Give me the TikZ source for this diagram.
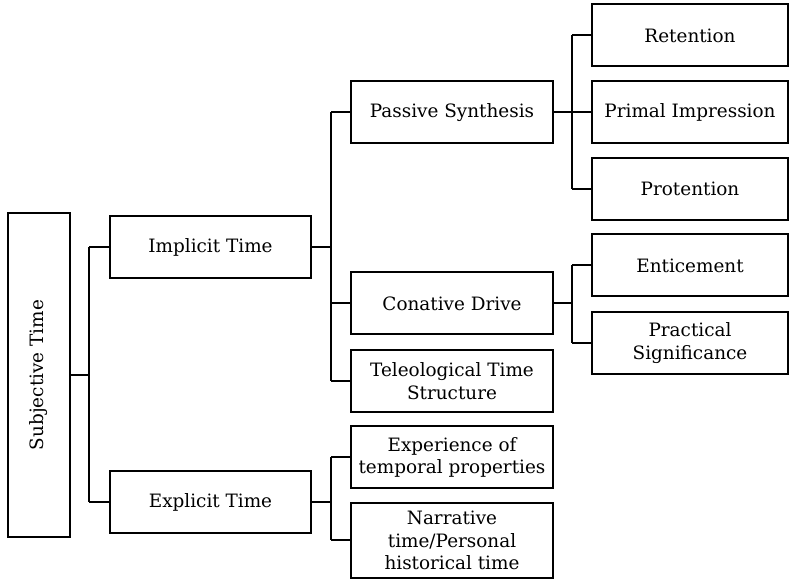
\documentclass[tikz,border=0pt]{standalone}
\usepackage{fontspec}
\setmainfont{DejaVu Serif}
\begin{document}
\begin{tikzpicture}[x=0.75pt,y=-0.75pt,
  box/.style={draw, line width=1.5pt, inner sep=0pt, align=center, font=\fontsize{13.8}{17}\selectfont},
  lvA/.style={box, minimum width=150.75pt, minimum height=46.5pt},
  lvB/.style={box, minimum width=151.5pt, minimum height=46.5pt},
  lvC/.style={box, minimum width=147pt, minimum height=46.5pt},
  wire/.style={line width=1.5pt}]
\useasboundingbox (0,0) rectangle (789,580);
% nodes
\node[box, rotate=90, minimum width=243pt, minimum height=46.5pt] (subj) at (39,375) {Subjective Time};
\node[lvA] (impl) at (210.5,247) {Implicit Time};
\node[lvA] (expl) at (210.5,502.5) {Explicit Time};
\node[lvB] (pass) at (452,112.5) {Passive Synthesis};
\node[lvB] (conat) at (452,303.5) {Conative Drive};
\node[lvB] (tele) at (452,381) {Teleological Time\\Structure};
\node[lvB] (exper) at (452,457.5) {Experience of\\temporal properties};
\node[lvB, minimum height=56.25pt] (narr) at (452,540.5) {Narrative\\time/Personal\\historical time};
\node[lvC] (ret) at (690,35.5) {Retention};
\node[lvC] (prim) at (690,112.5) {Primal Impression};
\node[lvC] (prot) at (690,189) {Protention};
\node[lvC] (ent) at (690,265.5) {Enticement};
\node[lvC] (prac) at (690,343) {Practical\\Significance};
% junctions
\coordinate (j0) at (89,375);
\coordinate (j1) at (331,247);
\coordinate (j2) at (331,502.5);
\coordinate (j3) at (572,112.5);
\coordinate (j4) at (572,303.5);
% connectors
\draw[wire] (subj.south) -- (j0);
\draw[wire] (j0 |- impl.west) -- (j0 |- expl.west);
\draw[wire] (j0 |- impl.west) -- (impl.west);
\draw[wire] (j0 |- expl.west) -- (expl.west);
\draw[wire] (impl.east) -- (j1);
\draw[wire] (j1 |- pass.west) -- (j1 |- tele.west);
\draw[wire] (j1 |- pass.west) -- (pass.west);
\draw[wire] (j1 |- conat.west) -- (conat.west);
\draw[wire] (j1 |- tele.west) -- (tele.west);
\draw[wire] (expl.east) -- (j2);
\draw[wire] (j2 |- exper.west) -- (j2 |- narr.west);
\draw[wire] (j2 |- exper.west) -- (exper.west);
\draw[wire] (j2 |- narr.west) -- (narr.west);
\draw[wire] (pass.east) -- (j3);
\draw[wire] (j3 |- ret.west) -- (j3 |- prot.west);
\draw[wire] (j3 |- ret.west) -- (ret.west);
\draw[wire] (j3 |- prim.west) -- (prim.west);
\draw[wire] (j3 |- prot.west) -- (prot.west);
\draw[wire] (conat.east) -- (j4);
\draw[wire] (j4 |- ent.west) -- (j4 |- prac.west);
\draw[wire] (j4 |- ent.west) -- (ent.west);
\draw[wire] (j4 |- prac.west) -- (prac.west);
\end{tikzpicture}
\end{document}
